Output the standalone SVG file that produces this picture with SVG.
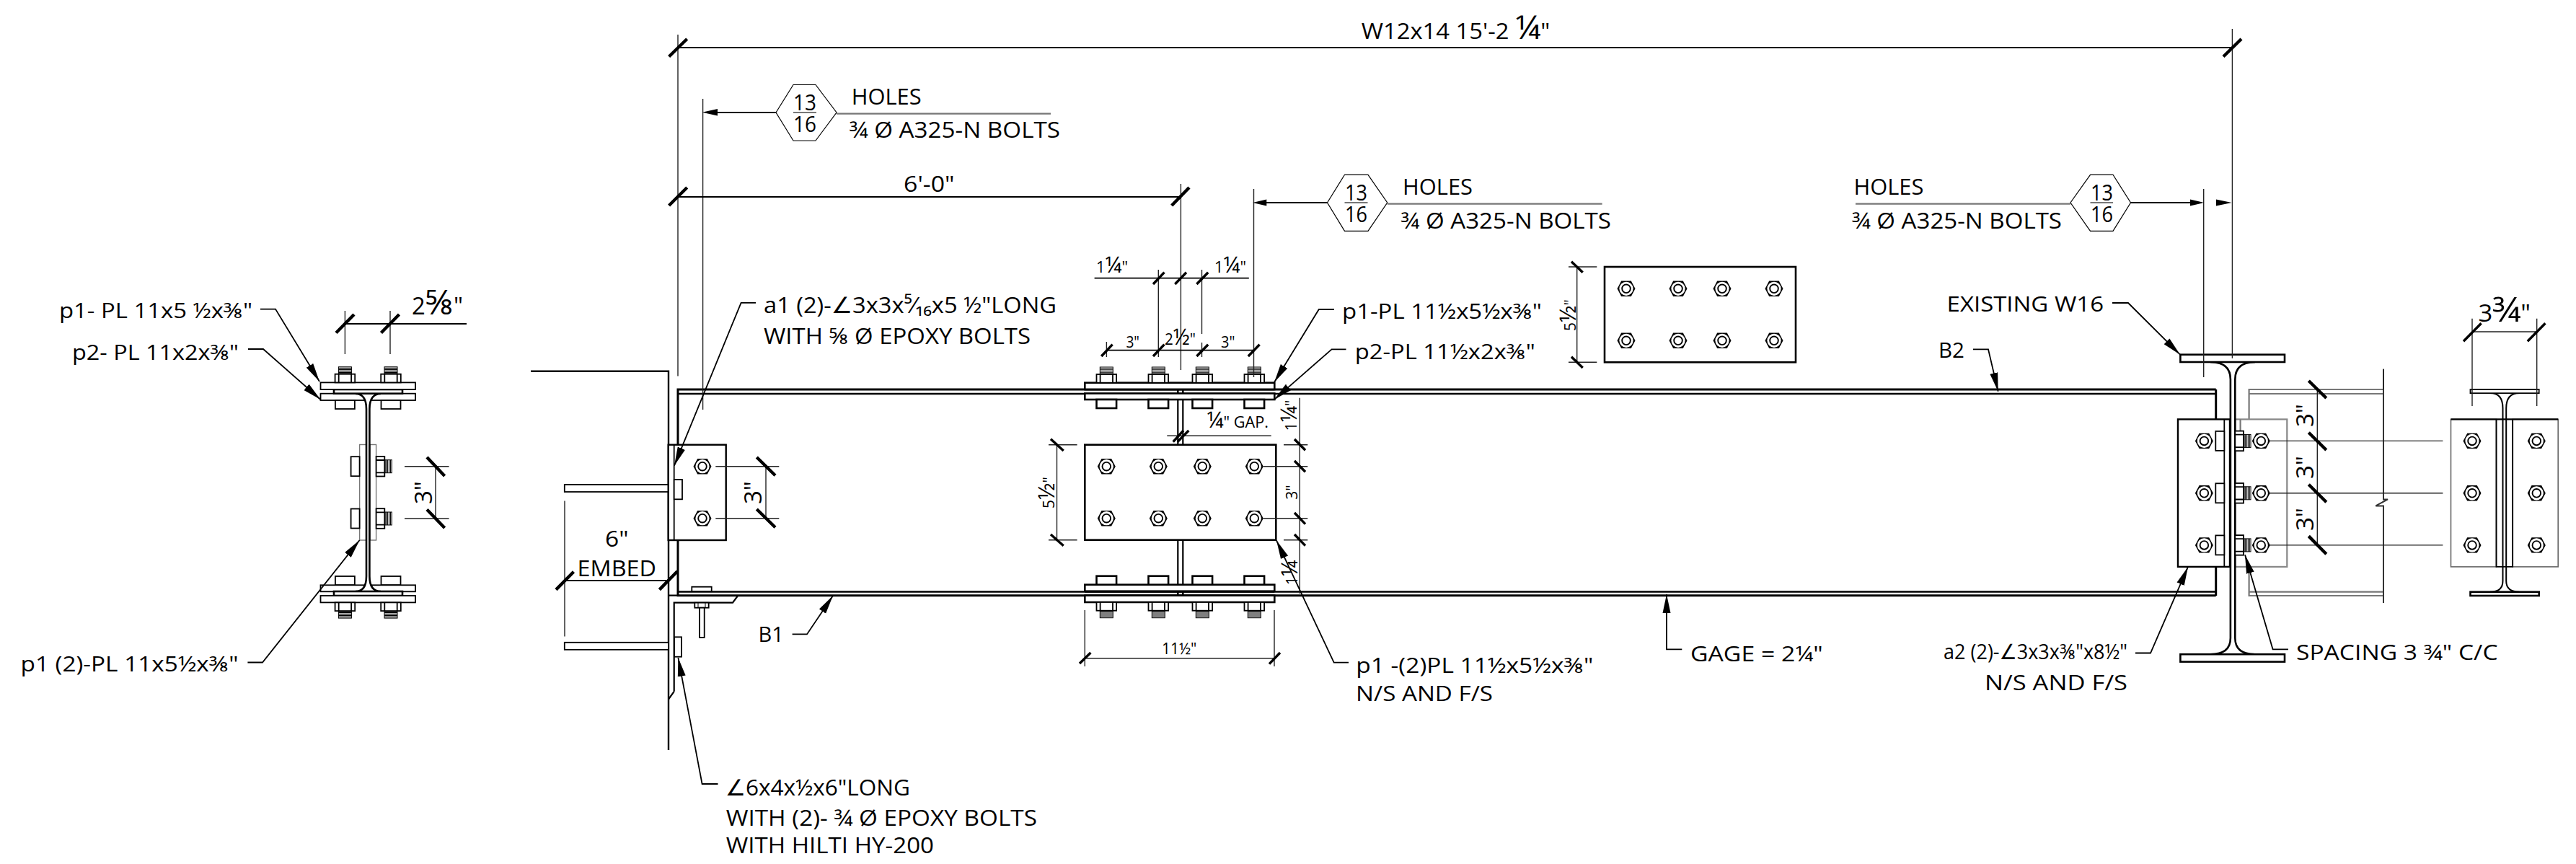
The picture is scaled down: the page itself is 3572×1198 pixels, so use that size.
<svg xmlns="http://www.w3.org/2000/svg" xmlns:xlink="http://www.w3.org/1999/xlink" width="3572" height="1198" viewBox="0 0 3572 1198">
<style>
text{font-family:"Open Sans","DejaVu Sans",sans-serif;fill:#000;font-size:31px;white-space:pre}
.m{font-size:29px}
.sm{font-size:21px}
.b3{font-size:33px}
.f{font-size:1.45em}
line,path,rect,polyline,polygon,circle{vector-effect:none}
.k{fill:none;stroke:#000;stroke-width:3}
.o{fill:#fff;stroke:#000;stroke-width:2.6}
.w{fill:#fff;stroke:#000;stroke-width:1.8}
.n{fill:none;stroke:#000;stroke-width:1.8}
.d{fill:none;stroke:#222;stroke-width:1.4}
.g{fill:none;stroke:#777;stroke-width:2.2}
.gw{fill:#fff;stroke:#888;stroke-width:2.2}
.t{fill:none;stroke:#000;stroke-width:4.4}
.l{fill:none;stroke:#000;stroke-width:1.8;marker-end:url(#ah)}
.a{fill:none;stroke:#000;stroke-width:1.6}
</style>
<defs>
<marker id="ah" markerUnits="userSpaceOnUse" markerWidth="28" markerHeight="14" refX="26" refY="7" orient="auto" viewBox="0 0 28 14"><path d="M26 7L0 1.5V12.5Z" fill="#000"/></marker>
<marker id="ah2" markerUnits="userSpaceOnUse" markerWidth="24" markerHeight="12" refX="22" refY="6" orient="auto" viewBox="0 0 24 12"><path d="M22 6L0 1V11Z" fill="#000"/></marker>
<g id="nut"><polygon points="-12.5,0 -6.8,-10.7 6.8,-10.7 12.5,0 6.8,10.7 -6.8,10.7" fill="#000"/><circle r="9.6" fill="#fff"/><circle r="5.8" fill="#fff" stroke="#000" stroke-width="1.9"/></g>
<g id="nt"><rect x="-9" y="-21.7" width="18" height="10" fill="#fff" stroke="#000" stroke-width="1"/><path d="M-9-20H9M-9-18H9M-9-16H9M-9-14H9M-9-12.5H9" stroke="#000" stroke-width="1.1"/><rect x="-13.8" y="-11.7" width="27.6" height="11.7" class="w"/><path d="M-8.7-11.7V0M8.7-11.7V0" class="n"/></g>
<rect id="hd" x="-13.8" y="0" width="27.6" height="12" class="o"/>
<rect id="hd2" x="-13.5" y="0" width="27" height="12" class="w"/>
</defs>

<g id="section-left">
<rect x="498.6" y="616.5" width="23" height="132.5" fill="#fff" stroke="#777" stroke-width="1.4"/>
<rect x="444.5" y="545.7" width="131.5" height="9.3" class="w"/>
<rect x="444.5" y="811.3" width="131.5" height="9" class="w"/>
<use href="#hd2" transform="translate(478.4,555)"/><use href="#hd2" transform="translate(542,555)"/>
<use href="#hd2" transform="translate(478.4,811) scale(1,-1)"/><use href="#hd2" transform="translate(542,811) scale(1,-1)"/>
<path d="M491 546H497Q508 546 508 567V799Q508 820 497 820H491V830H530V820H523Q512.4 820 512.4 799V567Q512.4 546 523 546H530V536H491Z" fill="#fff"/>
<path d="M493 546Q508 546 508 567V799Q508 820 493 820M528 546Q512.4 546 512.4 567V799Q512.4 820 528 820" class="o" style="fill:none"/>
<rect x="463" y="540" width="95" height="5.7" class="o"/>
<rect x="463" y="820" width="95" height="6" class="o"/>
<rect x="444.5" y="530.4" width="131.5" height="9.6" class="w"/>
<rect x="444.5" y="826" width="131.5" height="9.4" class="w"/>
<use href="#nt" transform="translate(478.4,530.4)"/><use href="#nt" transform="translate(542,530.4)"/>
<use href="#nt" transform="translate(478.4,835.4) scale(1,-1)"/><use href="#nt" transform="translate(542,835.4) scale(1,-1)"/>
<use href="#hd2" transform="translate(498.6,646.7) rotate(90)"/><use href="#hd2" transform="translate(498.6,719) rotate(90)"/>
<use href="#nt" transform="translate(521.6,646.7) rotate(90)"/><use href="#nt" transform="translate(521.6,719) rotate(90)"/>
<path d="M508 616.5V749M512.4 616.5V749" class="k" style="stroke-width:2"/>
</g>

<g id="wall-and-beam">
<path d="M736 514.7H927V1040" class="k" style="stroke-width:2.4"/>
<rect x="782.8" y="672" width="144.2" height="10" class="o" style="stroke-width:1.8"/>
<rect x="782.8" y="890.8" width="144.2" height="10" class="o" style="stroke-width:1.8"/>
<path d="M3072.7 540H940V825.7H3072.7M3072.7 540V581M3072.7 786V826" class="k"/>
<path d="M940 546H3072.7M940 820.5H3072.7" class="k" style="stroke-width:2.4"/>
<path d="M927 825.7H940M934.7 958.8V835.7H1016L1022.7 826.7M934.7 958.8L927 969.5" class="k" style="stroke-width:2.2"/>
<rect x="959.3" y="813.7" width="27.4" height="6.3" class="w"/>
<rect x="963.3" y="835.7" width="19.4" height="7" class="w"/><path d="M968 835.7V842.7M978 835.7V842.7" class="n" style="stroke-width:1"/>
<rect x="970" y="842.7" width="6.7" height="41.3" class="w"/>
<rect x="935" y="883.3" width="10" height="27.4" class="w"/>
</g>

<g id="clip-a1">
<rect x="926.7" y="616.7" width="80" height="132.3" fill="#fff" stroke="#000" stroke-width="2.4"/>
<path d="M934.7 616.7V749" class="n"/>
<rect x="934.7" y="665" width="11.3" height="27.3" class="w"/>
<use href="#nut" x="974" y="646.7"/><use href="#nut" x="974" y="718.7"/>
</g>

<g id="splice">
<rect x="1504.3" y="530.7" width="263" height="9.3" class="o"/>
<rect x="1504.3" y="545.5" width="263" height="8.5" class="o"/>
<rect x="1504.3" y="810.7" width="263" height="9" class="o"/>
<rect x="1504.3" y="825.7" width="263" height="9.3" class="o"/>
<path d="M1633.3 540V545.5M1640.3 540V545.5M1633.3 820V825.7M1640.3 820V825.7M1504.3 540H1767.3M1504.3 825.7H1767.3M1504.3 820.5H1767.3" class="k" style="stroke-width:2.6"/>
<path d="M1633.3 554V616.7M1640.3 554V616.7M1633.3 749V811M1640.3 749V811" class="k" style="stroke-width:2.2"/>
<use href="#nt" transform="translate(1534.3,530.7)"/><use href="#nt" transform="translate(1606.3,530.7)"/><use href="#nt" transform="translate(1667.3,530.7)"/><use href="#nt" transform="translate(1739.3,530.7)"/>
<use href="#hd" transform="translate(1534.3,554)"/><use href="#hd" transform="translate(1606.3,554)"/><use href="#hd" transform="translate(1667.3,554)"/><use href="#hd" transform="translate(1739.3,554)"/>
<use href="#nt" transform="translate(1534.3,835) scale(1,-1)"/><use href="#nt" transform="translate(1606.3,835) scale(1,-1)"/><use href="#nt" transform="translate(1667.3,835) scale(1,-1)"/><use href="#nt" transform="translate(1739.3,835) scale(1,-1)"/>
<use href="#hd" transform="translate(1534.3,810.7) scale(1,-1)"/><use href="#hd" transform="translate(1606.3,810.7) scale(1,-1)"/><use href="#hd" transform="translate(1667.3,810.7) scale(1,-1)"/><use href="#hd" transform="translate(1739.3,810.7) scale(1,-1)"/>
<rect x="1504.3" y="616.7" width="265" height="132" fill="#fff" stroke="#000" stroke-width="2.6"/>
<use href="#nut" x="1534.3" y="646.7"/><use href="#nut" x="1606.3" y="646.7"/><use href="#nut" x="1667.3" y="646.7"/><use href="#nut" x="1739.3" y="646.7"/>
<use href="#nut" x="1534.3" y="718.7"/><use href="#nut" x="1606.3" y="718.7"/><use href="#nut" x="1667.3" y="718.7"/><use href="#nut" x="1739.3" y="718.7"/>
</g>

<g id="plate-detail">
<rect x="2225" y="370" width="265" height="132.3" fill="#fff" stroke="#000" stroke-width="2.6"/>
<use href="#nut" x="2255" y="400.3"/><use href="#nut" x="2327" y="400.3"/><use href="#nut" x="2388" y="400.3"/><use href="#nut" x="2460" y="400.3"/>
<use href="#nut" x="2255" y="472.3"/><use href="#nut" x="2327" y="472.3"/><use href="#nut" x="2388" y="472.3"/><use href="#nut" x="2460" y="472.3"/>
</g>

<g id="beam-far">
<path d="M3118.6 581.4V540H3305M3118.6 546H3305M3118.6 786V826H3305M3118.6 820.7H3305" class="g"/>
<rect x="3099.3" y="581.4" width="72" height="204.5" class="gw"/>
<path d="M3106.6 581.4V600" class="g"/>
<path d="M3305 511.7V692.4L3311 692.4L3294.3 701.4H3305V835.9" class="k" style="stroke:#333;stroke-width:2"/>
</g>

<g id="column-w16">
<rect x="3020" y="581.4" width="72" height="204.5" fill="#fff" stroke="#000" stroke-width="2.4"/>
<path d="M3084.3 581.4V785.9" class="n"/>
<path d="M3065 502Q3092.9 502 3092.9 526V884.8Q3092.9 907.2 3065 907.2M3127 502Q3099.3 502 3099.3 526V884.8Q3099.3 907.2 3127 907.2" class="o" style="fill:none"/>
<rect x="3023.4" y="491.7" width="144.6" height="10.3" class="o"/>
<rect x="3023.4" y="907.2" width="144.6" height="10.4" class="o"/>
<use href="#hd2" transform="translate(3084.3,611.4) rotate(90)"/><use href="#hd2" transform="translate(3084.3,683.8) rotate(90)"/><use href="#hd2" transform="translate(3084.3,755.9) rotate(90)"/>
<use href="#nt" transform="translate(3099.3,611.4) rotate(90)"/><use href="#nt" transform="translate(3099.3,683.8) rotate(90)"/><use href="#nt" transform="translate(3099.3,755.9) rotate(90)"/>
<use href="#nut" x="3056.4" y="611.4"/><use href="#nut" x="3056.4" y="683.8"/><use href="#nut" x="3056.4" y="755.9"/>
<use href="#nut" x="3135.3" y="611.4"/><use href="#nut" x="3135.3" y="683.8"/><use href="#nut" x="3135.3" y="755.9"/>
</g>

<g id="section-right">
<rect x="3398.5" y="581.4" width="63" height="204.5" fill="#fff" stroke="#666" stroke-width="1.6"/>
<rect x="3484.2" y="581.4" width="63" height="204.5" fill="#fff" stroke="#666" stroke-width="1.6"/>
<path d="M3398.5 581.4H3547.2" class="k" style="stroke-width:2.4"/>
<path d="M3461.5 581.4V785.9H3484.2V581.4" class="n"/>
<path d="M3453 545Q3470.5 545 3470.5 566V805.5Q3470.5 820.7 3453 820.7M3493.6 545Q3475.2 545 3475.2 566V805.5Q3475.2 820.7 3493.6 820.7" class="k" style="stroke-width:2"/>
<rect x="3425.5" y="540" width="95.2" height="5.2" class="w"/>
<rect x="3425.5" y="820.7" width="95.2" height="5.3" class="o"/>
<use href="#nut" x="3428" y="611.4"/><use href="#nut" x="3428" y="683.8"/><use href="#nut" x="3428" y="755.9"/>
<use href="#nut" x="3517.3" y="611.4"/><use href="#nut" x="3517.3" y="683.8"/><use href="#nut" x="3517.3" y="755.9"/>
</g>

<g id="connectors">
<path class="d" d="M940 48V521.6M3095.4 40V496.7M974.6 137V568M1637.4 255V513M1738.5 262V523M1606.3 374V495M1666.5 374V463M1666.5 475V495M1534.4 474V495M3055.7 262V523
M478.4 431V491M541 431V491M561 646.7H622.6M561 719H622.6M604 646.7V719
M783 694.6V882.4M1062 646.7V718.7M992.3 646.7H1080.3M992.3 718.7H1080.3
M1454 616.7H1493.6M1454 748.7H1493.6M1465.5 616.7V748.7M2175 370H2214.3M2175 502.3H2214.3M2186.7 370V502.3
M1504.3 846V924M1767 846V924M1504.3 912.7H1767M1802.3 551.7V823M1780 616.7H1813.3M1780 748.7H1813.3M1751.7 646.7H1813.3M1751.7 718.7H1813.3
M1618.3 604.3H1762.7
M3428 441.7V563M3517.7 441.7V563M3428 460H3517.7M3213.3 540V755.9M3146.5 611.4H3387.4M3146.5 683.8H3387.4M3146.5 755.9H3387.4M3305 511.7V540"/>
<path class="n" d="M940 66H3095.4M940 273H1637.4M478.4 449H647M783 805H924M1517.6 385.7H1731.8M1534.4 485.7H1738.5M1076 156H993"/>
<path class="t" d="M927.6 78.5L952.7 54M3083 78.5L3108 54M927.6 285L952.7 260M1624.7 285L1649 260
M466 461.5L491 436M528.5 461.5L553.5 436M592 634L616.6 660M592 706.4L616.6 732
M771 817.6L795.5 792.7M914.4 817.6L939.4 792M1049.3 634L1075 659.3M1049.3 706L1075 731.3"/>
<path class="t" style="stroke-width:3.4" d="M1599 394L1614.5 377.7M1629.3 394L1645 377.7M1659.4 394L1675.2 377.7
M1527.2 494L1542.6 477.7M1599 494L1614.5 477.7M1659.4 494L1675.2 477.7M1730.8 494L1746.6 477.7
M1457 608.7L1474.7 625M1457 741L1474.7 756.7M2179 362.7L2194.7 377.7M2179 494.7L2194.7 510
M1497 920L1512.4 905M1760 920.7L1775 905M1795 609L1810 624.3M1795 639L1810 654.3M1795 711L1810 726.7M1795 741L1810 756.7
M1626.7 612.7L1641 597M1632.7 612.7L1648.3 597M3416 473.3L3440.6 448.3M3504.8 473.3L3529.4 448.3"/>
<path class="t" d="M3201.3 528L3225.8 552M3201.3 599.7L3225.8 624M3201.3 671.7L3225.8 696.2M3201.3 743.4L3225.8 768.3"/>
<polygon class="a" points="1076,156 1100,117.5 1131,117.5 1160,156 1131,195 1100,195" style="stroke-width:1.2"/>
<polygon class="a" points="1840.5,281 1864.5,242.3 1897,242.3 1923.7,281 1897,320.3 1864.5,320.3" style="stroke-width:1.2"/>
<polygon class="a" points="2871,281 2898.5,242.3 2930,242.3 2954.5,281 2930,320.3 2898.5,320.3" style="stroke-width:1.2"/>
<path class="g" d="M1160 157.7H1457M1923.7 282.7H2221.6M2573 282.7H2871M1100 156H1132M1864.5 281H1896.5M2898.5 281H2930"/>
<path class="n" d="M1840.5 281H1756M2954.5 281H3038"/>
<path fill="#000" d="M973.6 155.8L995 151V160.5ZM1737 281L1756.3 276.5V285.5ZM3056 281L3037 276.5V285.5ZM3094.5 281L3073 276.5V285.5Z"/>
<path class="l" d="M361 428.6H382L443 529"/>
<path class="l" d="M344 484H365L444.5 554"/>
<path class="l" d="M343.4 918.5H364L498.6 749"/>
<path class="l" d="M1048 419.8H1027.6L935 645.7"/>
<path class="l" d="M995.5 1087H973.6L940.4 912"/>
<path class="l" d="M1098.6 879.4H1119L1155 826"/>
<path class="l" d="M1850 429H1828.8L1767 530"/>
<path class="l" d="M1866.5 484.3H1846.6L1767 554"/>
<path class="l" d="M1870 918.7H1849.7L1770 749.3"/>
<path class="l" d="M2332.3 900.3H2311V824"/>
<path class="l" d="M2736 484.3H2757L2770.7 542.7"/>
<path class="l" d="M2929 420H2951L3023 491.7"/>
<path class="l" d="M2961 905.5H2982L3034 785.9"/>
<path class="l" d="M3173 900.3H3151.6L3113 769.3"/>
</g>

<g id="labels">
<text x="1887.7" y="54.3" textLength="261.6" lengthAdjust="spacingAndGlyphs">W12x14 15'-2 <tspan class="f">¼</tspan>"</text>
<text x="1253" y="266" textLength="70.6" lengthAdjust="spacingAndGlyphs">6'-0"</text>

<text x="1100" y="153" textLength="32" lengthAdjust="spacingAndGlyphs">13</text><text x="1100" y="183" textLength="32" lengthAdjust="spacingAndGlyphs">16</text>
<text x="1180.7" y="145.4" textLength="97" lengthAdjust="spacingAndGlyphs">HOLES</text>
<text x="1177.7" y="190.6" textLength="292.3" lengthAdjust="spacingAndGlyphs">¾ Ø A325-N BOLTS</text>
<text x="1865" y="278.3" textLength="31" lengthAdjust="spacingAndGlyphs">13</text><text x="1865" y="307.7" textLength="31" lengthAdjust="spacingAndGlyphs">16</text>
<text x="1945" y="270" textLength="97" lengthAdjust="spacingAndGlyphs">HOLES</text>
<text x="1942.5" y="316.7" textLength="291.5" lengthAdjust="spacingAndGlyphs">¾ Ø A325-N BOLTS</text>
<text x="2899" y="278.3" textLength="31" lengthAdjust="spacingAndGlyphs">13</text><text x="2899" y="307.7" textLength="31" lengthAdjust="spacingAndGlyphs">16</text>
<text x="2570.4" y="270" textLength="97" lengthAdjust="spacingAndGlyphs">HOLES</text>
<text x="2568" y="316.7" textLength="291" lengthAdjust="spacingAndGlyphs">¾ Ø A325-N BOLTS</text>

<text class="m" x="82" y="441" textLength="268" lengthAdjust="spacingAndGlyphs">p1- PL 11x5 ½x⅜"</text>
<text class="m" x="100" y="498.6" textLength="231" lengthAdjust="spacingAndGlyphs">p2- PL 11x2x⅜"</text>
<text class="m" x="28.5" y="931" textLength="302" lengthAdjust="spacingAndGlyphs">p1 (2)-PL 11x5½x⅜"</text>
<text class="b3" x="571" y="436" textLength="71" lengthAdjust="spacingAndGlyphs">2<tspan class="f">⅝</tspan>"</text>
<text class="b3" transform="translate(599,683) rotate(-90)" text-anchor="middle">3"</text>

<text x="1059" y="434.4" textLength="406" lengthAdjust="spacingAndGlyphs">a1 (2)-∠3x3x⁵⁄₁₆x5 ½"LONG</text>
<text x="1059" y="477" textLength="370" lengthAdjust="spacingAndGlyphs">WITH ⅝ Ø EPOXY BOLTS</text>
<text class="b3" transform="translate(1056,683) rotate(-90)" text-anchor="middle">3"</text>
<text x="839" y="758.4" textLength="32.5" lengthAdjust="spacingAndGlyphs">6"</text>
<text x="800.6" y="798.5" textLength="109.4" lengthAdjust="spacingAndGlyphs">EMBED</text>
<text class="m" x="1051.6" y="890" textLength="35.4" lengthAdjust="spacingAndGlyphs">B1</text>
<text x="1005.7" y="1103" textLength="256.3" lengthAdjust="spacingAndGlyphs">∠6x4x½x6"LONG</text>
<text x="1006.7" y="1144.7" textLength="431.3" lengthAdjust="spacingAndGlyphs">WITH (2)- ¾ Ø EPOXY BOLTS</text>
<text x="1006.7" y="1183" textLength="288.3" lengthAdjust="spacingAndGlyphs">WITH HILTI HY-200</text>

<text class="sm" x="1520" y="378" textLength="44" lengthAdjust="spacingAndGlyphs">1<tspan class="f">¼</tspan>"</text>
<text class="sm" x="1684" y="378" textLength="44" lengthAdjust="spacingAndGlyphs">1<tspan class="f">¼</tspan>"</text>
<text class="sm" x="1561.4" y="481.7" textLength="18.6" lengthAdjust="spacingAndGlyphs">3"</text>
<text class="sm" x="1615" y="478" textLength="43" lengthAdjust="spacingAndGlyphs">2<tspan class="f">½</tspan>"</text>
<text class="sm" x="1693" y="481.7" textLength="19.4" lengthAdjust="spacingAndGlyphs">3"</text>
<text class="sm" transform="translate(1462,683) rotate(-90)" text-anchor="middle">5<tspan class="f">½</tspan>"</text>
<text class="sm" transform="translate(2185,437) rotate(-90)" text-anchor="middle">5<tspan class="f">½</tspan>"</text>
<text class="sm" x="1611" y="906.7" textLength="48.4" lengthAdjust="spacingAndGlyphs">11½"</text>
<text class="sm" x="1673.3" y="592.7" textLength="85.7" lengthAdjust="spacingAndGlyphs"><tspan class="f">¼</tspan>" GAP.</text>
<text class="sm" transform="translate(1798,576) rotate(-90)" text-anchor="middle">1<tspan class="f">¼</tspan>"</text>
<text class="sm" transform="translate(1799,682.5) rotate(-90)" text-anchor="middle">3"</text>
<text class="sm" transform="translate(1799,794) rotate(-90)" text-anchor="middle">1<tspan class="f">¼</tspan></text>

<text class="m" x="1861" y="442.3" textLength="277" lengthAdjust="spacingAndGlyphs">p1-PL 11½x5½x⅜"</text>
<text class="m" x="1878.8" y="498.3" textLength="250" lengthAdjust="spacingAndGlyphs">p2-PL 11½x2x⅜"</text>
<text class="m" x="1880.3" y="932.7" textLength="329" lengthAdjust="spacingAndGlyphs">p1 -(2)PL 11½x5½x⅜"</text>
<text class="m" x="1880" y="971.7" textLength="190" lengthAdjust="spacingAndGlyphs">N/S AND F/S</text>
<text class="m" x="2344" y="916.7" textLength="183.7" lengthAdjust="spacingAndGlyphs">GAGE = 2¼"</text>

<text class="m" x="2699.6" y="431.7" textLength="217.4" lengthAdjust="spacingAndGlyphs">EXISTING W16</text>
<text class="m" x="2688" y="496" textLength="36" lengthAdjust="spacingAndGlyphs">B2</text>
<text class="m" x="2695" y="914" textLength="255" lengthAdjust="spacingAndGlyphs">a2 (2)-∠3x3x⅜"x8½"</text>
<text class="m" x="2752" y="957" textLength="198" lengthAdjust="spacingAndGlyphs">N/S AND F/S</text>
<text class="m" x="3184" y="915.2" textLength="279.6" lengthAdjust="spacingAndGlyphs">SPACING 3 ¾" C/C</text>
<text class="b3" transform="translate(3208,576) rotate(-90)" text-anchor="middle">3"</text>
<text class="b3" transform="translate(3208,648) rotate(-90)" text-anchor="middle">3"</text>
<text class="b3" transform="translate(3208,720) rotate(-90)" text-anchor="middle">3"</text>
<text class="b3" x="3436.4" y="446" textLength="72.6" lengthAdjust="spacingAndGlyphs">3<tspan class="f">¾</tspan>"</text>
</g>
</svg>
